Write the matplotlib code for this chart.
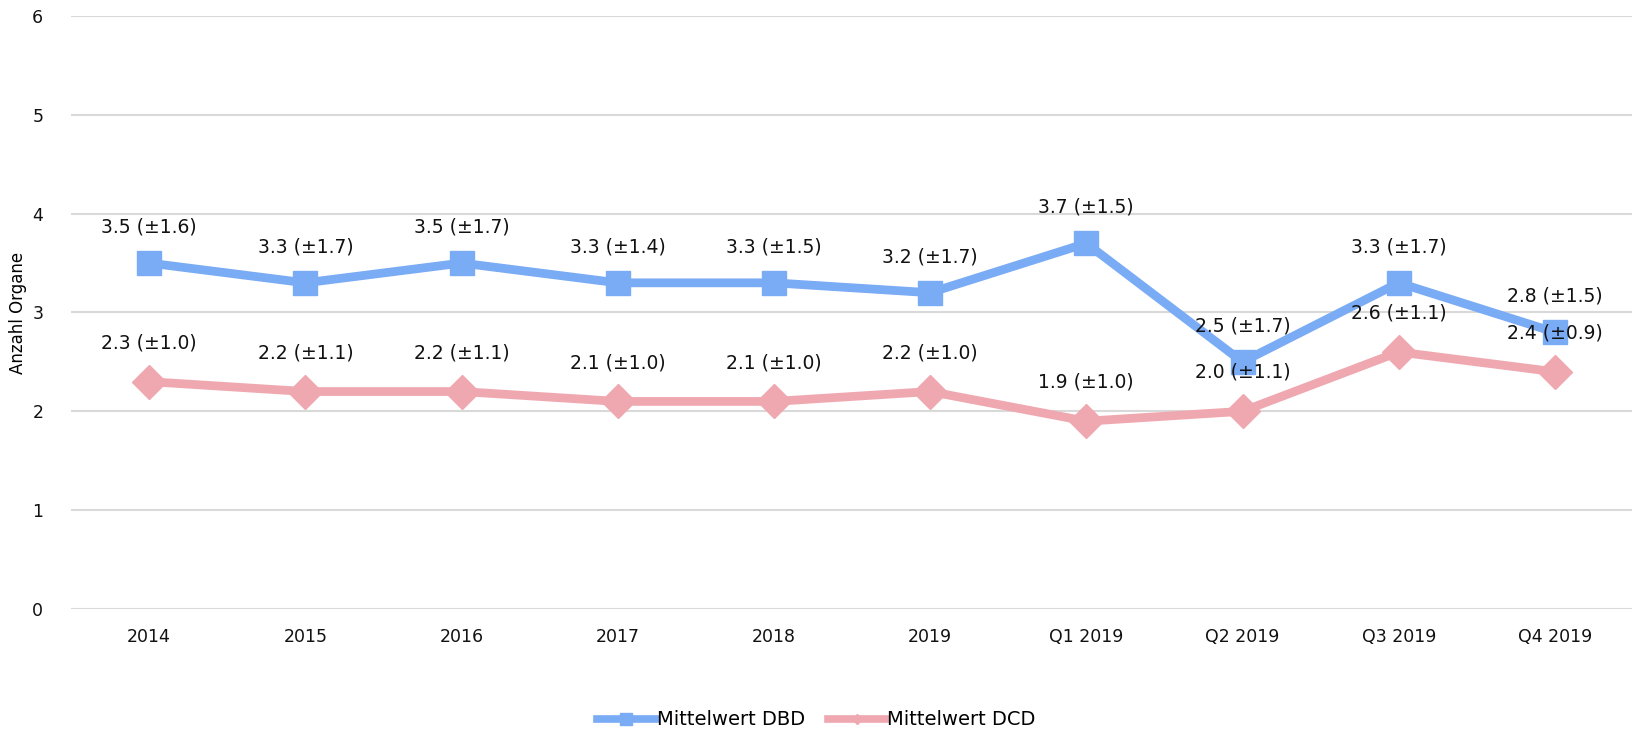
import matplotlib
matplotlib.use("Agg")
import matplotlib.pyplot as plt
from matplotlib.lines import Line2D

# data
categories = ["2014", "2015", "2016", "2017", "2018", "2019",
              "Q1 2019", "Q2 2019", "Q3 2019", "Q4 2019"]
dbd_mean = [3.5, 3.3, 3.5, 3.3, 3.3, 3.2, 3.7, 2.5, 3.3, 2.8]
dbd_sd = [1.6, 1.7, 1.7, 1.4, 1.5, 1.7, 1.5, 1.7, 1.7, 1.5]
dcd_mean = [2.3, 2.2, 2.2, 2.1, 2.1, 2.2, 1.9, 2.0, 2.6, 2.4]
dcd_sd = [1.0, 1.1, 1.1, 1.0, 1.0, 1.0, 1.0, 1.1, 1.1, 0.9]

blue = "#7aabf5"
pink = "#efa8b0"

plt.rcParams["font.family"] = ["DejaVu Sans"]

fig = plt.figure(figsize=(16.33, 7.33), dpi=100)
ax = fig.add_axes([0.0435, 0.1692, 0.9565, 0.809])

x = list(range(len(categories)))
ax.plot(x, dbd_mean, color=blue, lw=6.3, marker="s", ms=17, zorder=3)
ax.plot(x, dcd_mean, color=pink, lw=6.3, marker="D", ms=17, zorder=3)

for xi, m, s in zip(x, dbd_mean, dbd_sd):
    ax.annotate(f"{m:.1f} (\u00b1{s:.1f})", (xi, m), xytext=(0, 26),
                textcoords="offset points", ha="center", va="center",
                fontsize=13.5, color="#111111", zorder=4)
for xi, m, s in zip(x, dcd_mean, dcd_sd):
    ax.annotate(f"{m:.1f} (\u00b1{s:.1f})", (xi, m), xytext=(0, 28),
                textcoords="offset points", ha="center", va="center",
                fontsize=13.5, color="#111111", zorder=4)

ax.set_xlim(-0.5, len(categories) - 0.5)
ax.set_ylim(0, 6)
ax.set_yticks(range(0, 7))
ax.set_xticks(x)
ax.set_xticklabels(categories)
ax.tick_params(axis="both", length=0, labelsize=12.5, colors="#111111")
ax.tick_params(axis="y", pad=20)
ax.tick_params(axis="x", pad=14)
ax.grid(axis="y", color="#d9d9d9", lw=1.5)
ax.set_axisbelow(True)
for sp in ax.spines.values():
    sp.set_visible(False)
ax.set_ylabel("Anzahl Organe", fontsize=12, labelpad=4)

handles = [
    Line2D([], [], color=blue, lw=5.5, marker="s", ms=9),
    Line2D([], [], color=pink, lw=5.5, marker="D", ms=5),
]
fig.legend(handles, ["Mittelwert DBD", "Mittelwert DCD"], loc="center",
           bbox_to_anchor=(0.5, 0.018), ncol=2, frameon=False, fontsize=14,
           handlelength=3, handletextpad=0.05, columnspacing=1.2)

fig.savefig("out.png", dpi=100)
